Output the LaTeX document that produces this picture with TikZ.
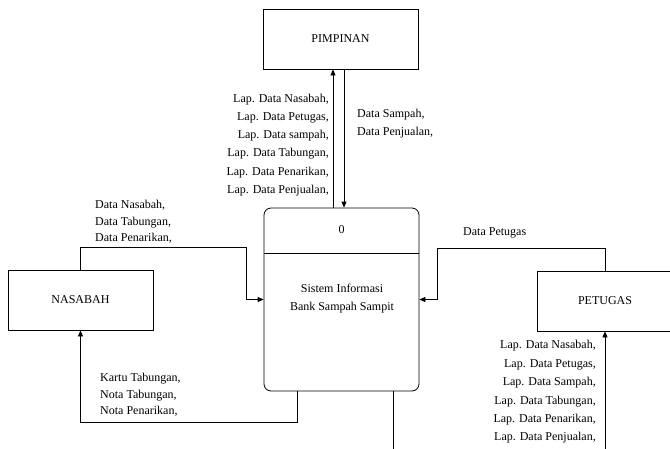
\documentclass[tikz,border=0pt]{standalone}
\usepackage{fontspec}
\setmainfont{Liberation Serif}
\usetikzlibrary{arrows.meta}
\tikzset{
  ent/.style={draw, line width=0.8pt, inner sep=0pt, font=\fontsize{12}{14}\selectfont},
  proc/.style={draw, line width=0.8pt, rounded corners=7pt, inner sep=0pt},
  flow/.style={line width=0.8pt, -{Triangle[length=6pt,width=5pt]}},
  lbl/.style={inner sep=0pt},
}
\begin{document}
\begin{tikzpicture}[x=1pt,y=-1pt]
\useasboundingbox (0,0) rectangle (670,448);
\clip (0,0) rectangle (670,448);
% entities
\node[ent, minimum width=155pt, minimum height=60pt] (pim) at (340.5,39) {PIMPINAN};
\node[ent, minimum width=145pt, minimum height=60pt] (nas) at (80.5,300) {NASABAH};
\node[ent, minimum width=136pt, minimum height=60pt] (pet) at (605,301) {PETUGAS};
% process
\node[proc, minimum width=155pt, minimum height=183pt] (proc) at (341.5,299.5) {};
\coordinate (dl) at (264,253);
\coordinate (dr) at (419,253);
\draw[line width=0.8pt] (dl) -- (dr);
\node[lbl, font=\fontsize{12}{14}\selectfont] (pid) at (341.5,230) {0};
\node[lbl, align=center, font=\fontsize{12}{18}\selectfont] (pname) at (342,299) {Sistem Informasi\\Bank Sampah Sampit};
% helper coordinates
\coordinate (xa) at (333,0);
\coordinate (xb) at (344,0);
\coordinate (c1) at (246,247);
\coordinate (c2) at (297,422);
\coordinate (c3) at (437,248);
\coordinate (c4) at (393,470);
% connectors
\draw[flow] (proc.north -| xa) -- (pim.south -| xa);
\draw[flow] (pim.south -| xb) -- (proc.north -| xb);
\draw[flow] (nas.north) |- (c1) |- (proc.west);
\draw[flow] (proc.south -| c2) -- (c2) -| (nas.south);
\draw[flow] (pet.north) |- (c3) |- (proc.east);
\draw[flow] (proc.south -| c4) -- (c4) -| (pet.south);
% labels
\node[lbl, anchor=east, align=right, font=\fontsize{12}{18.2}\selectfont] (l1) at (329,145)
  {Lap. Data Nasabah,\\Lap. Data Petugas,\\Lap. Data sampah,\\Lap. Data Tabungan,\\Lap. Data Penarikan,\\Lap. Data Penjualan,};
\node[lbl, anchor=west, align=left, font=\fontsize{12}{18}\selectfont] (l2) at (357,124)
  {Data Sampah,\\Data Penjualan,};
\node[lbl, anchor=west, align=left, font=\fontsize{12}{16.5}\selectfont] (l3) at (95,222)
  {Data Nasabah,\\Data Tabungan,\\Data Penarikan,};
\node[lbl, anchor=west, align=left, font=\fontsize{12}{16.5}\selectfont] (l4) at (100,395)
  {Kartu Tabungan,\\Nota Tabungan,\\Nota Penarikan,};
\node[lbl, anchor=west, font=\fontsize{12}{14}\selectfont] (l5) at (463,233) {Data Petugas};
\node[lbl, anchor=east, align=right, font=\fontsize{12}{18.4}\selectfont] (l6) at (596,392)
  {Lap. Data Nasabah,\\Lap. Data Petugas,\\Lap. Data Sampah,\\Lap. Data Tabungan,\\Lap. Data Penarikan,\\Lap. Data Penjualan,};
\end{tikzpicture}
\end{document}
